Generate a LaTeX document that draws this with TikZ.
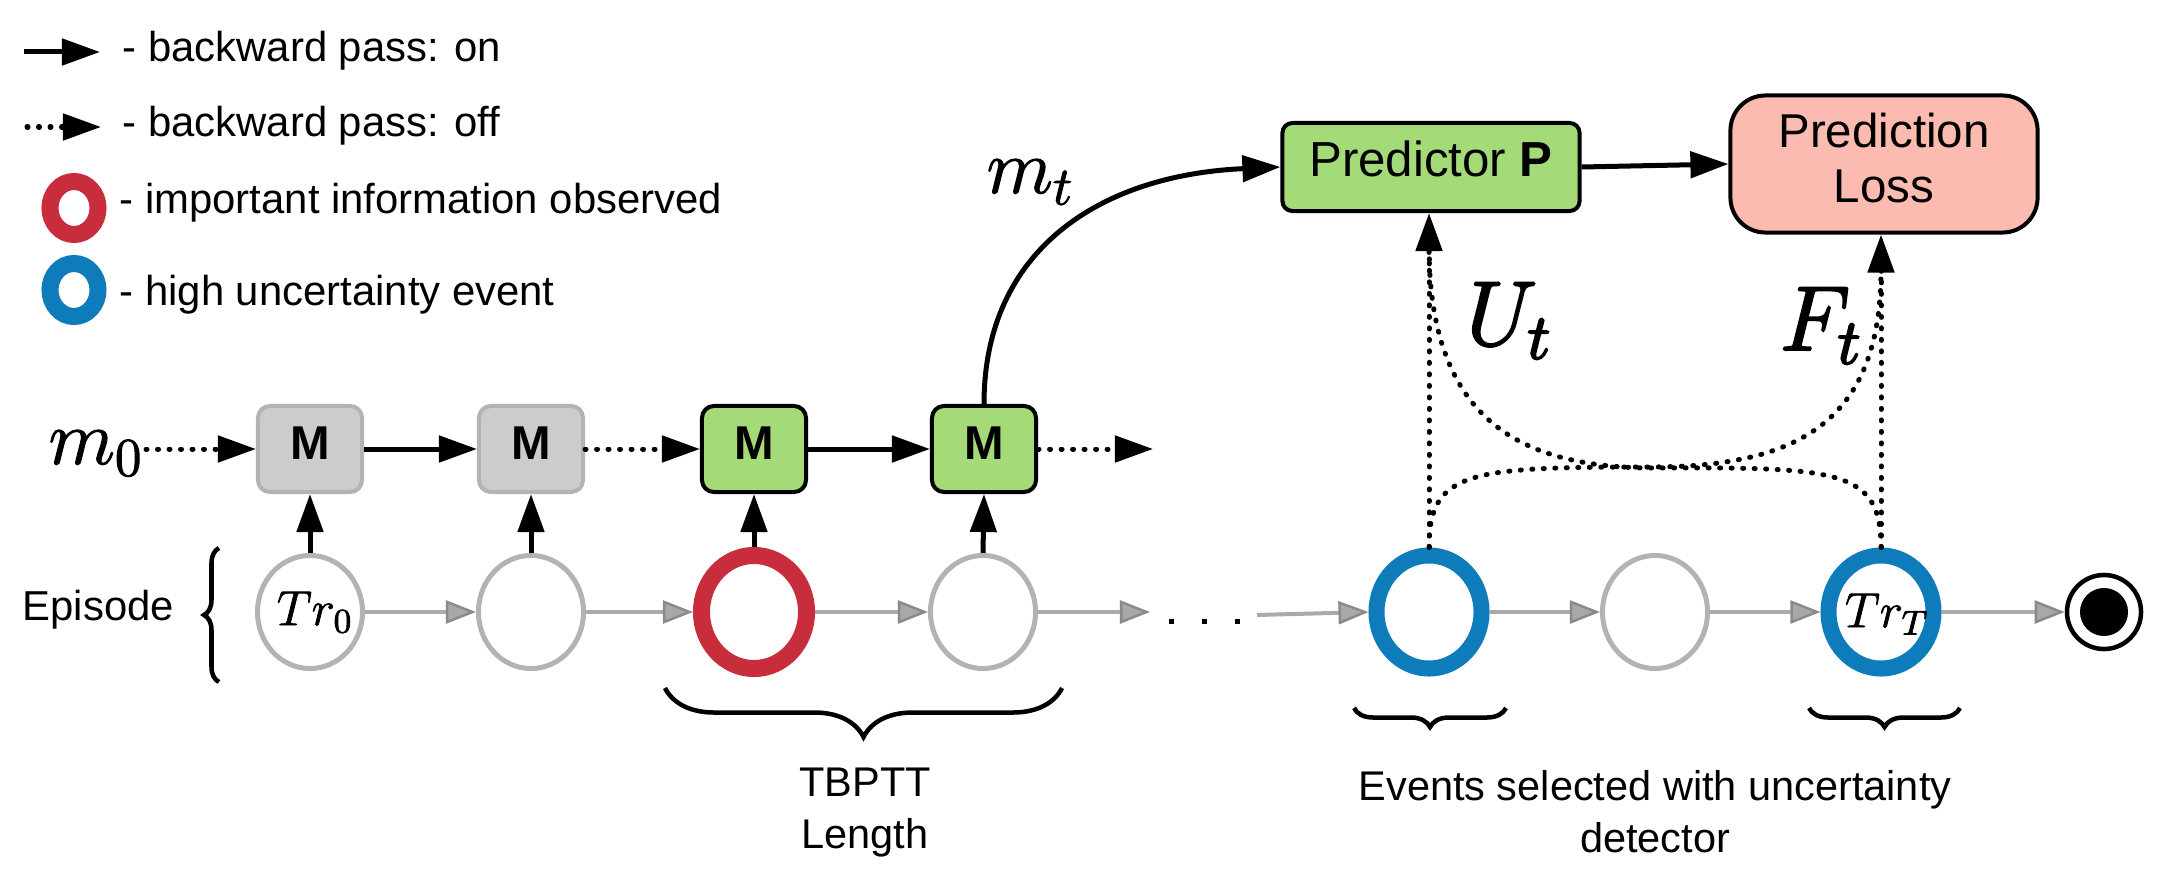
\RequirePackage{fix-cm}
\documentclass[tikz,border=0pt]{standalone}
\usepackage[no-math]{fontspec}
\setmainfont{Liberation Sans}
\usetikzlibrary{arrows.meta,shapes.geometric,decorations.pathreplacing,calc}
\definecolor{mgreen}{HTML}{A5DA78}
\definecolor{boxgray}{HTML}{CCCCCC}
\definecolor{boxborder}{HTML}{B3B3B3}
\definecolor{ringgray}{HTML}{B3B3B3}
\definecolor{ringred}{HTML}{C82D3C}
\definecolor{ringblue}{HTML}{0E7BBB}
\definecolor{losspink}{HTML}{FBBBB0}
\definecolor{gline}{HTML}{AAAAAA}
\definecolor{ghead}{HTML}{A8A8A8}
\definecolor{gheadline}{HTML}{8A8A8A}
\newcommand\heavytext[2]{\special{pdf:literal direct q #1 w 2 Tr}#2\special{pdf:literal direct Q}}
\begin{document}
\begin{tikzpicture}[x=0.01cm,y=-0.01cm,
  bp on/.style={line width=0.05cm,-{Triangle[length=0.38cm,width=0.26cm]}},
  dotln/.style={line width=0.05cm,line cap=round,dash pattern=on 0.01cm off 0.105cm},
  bp off/.style={dotln,-{Triangle[length=0.38cm,width=0.26cm]}},
  garrow/.style={line width=0.04cm,draw=gline,-{Triangle[length=0.3cm,width=0.23cm,fill=ghead,color=gheadline,line width=0.025cm]}},
  evt/.style={ellipse,minimum width=1.05cm,minimum height=1.13cm,inner sep=0pt,draw=ringgray,line width=0.05cm},
  redevt/.style={evt,draw=ringred,line width=0.17cm},
  blueevt/.style={evt,draw=ringblue,line width=0.16cm},
  mbox/.style={rectangle,rounded corners=0.12cm,minimum width=1.04cm,minimum height=0.86cm,inner sep=0pt,line width=0.04cm,text depth=0.12cm,font=\fontsize{13.5}{16}\selectfont\bfseries},
  mgraybox/.style={mbox,fill=boxgray,draw=boxborder},
  mgreenbox/.style={mbox,fill=mgreen,draw=black},
  legtxt/.style={anchor=base west,inner sep=0pt,font=\fontsize{11.9}{14}\selectfont},
  legring/.style={ellipse,minimum width=0.48cm,minimum height=0.53cm,inner sep=0pt,line width=0.17cm},
  bigmath/.style={anchor=base west,inner sep=0pt,font=\fontsize{22}{26}\selectfont},
  hugemath/.style={anchor=base west,inner sep=0pt,font=\fontsize{26}{30}\selectfont},
  trmath/.style={inner sep=0pt,font=\fontsize{14}{16}\selectfont},
  brc/.style={decorate,line width=0.045cm},
  captxt/.style={anchor=north,inner sep=0pt,align=center,font=\fontsize{11.8}{14.8}\selectfont}
]
\useasboundingbox (0,0) rectangle (2179,879);

% ---------- legend ----------
\coordinate (l1a) at (24,52);  \coordinate (l1b) at (100,52);
\coordinate (l2a) at (27,127); \coordinate (l2b) at (101,127);
\draw[bp on] (l1a) -- (l1b);
\draw[bp off] (l2a) -- (l2b);
\node[legtxt] (lt1) at (122,62) {- backward pass: on};
\node[legtxt] (lt2) at (122,137) {- backward pass: off};
\node[legring,draw=ringred] (lr3) at (74,208) {};
\node[legring,draw=ringblue] (lr4) at (74,290) {};
\node[legtxt] (lt3) at (119,213) {- important information observed};
\node[legtxt] (lt4) at (119,305) {- high uncertainty event};

% ---------- episode ----------
\node[legtxt] (episode) at (22,620) {Episode};
\coordinate (eb1) at (219,682); \coordinate (eb2) at (219,548);
\draw[brc,decoration={brace,amplitude=0.15cm}] (eb1) -- (eb2);

\node[evt] (c1) at (310,612) {};
\node[trmath] (tr0) at (315,612) {\heavytext{0.2}{$Tr_0$}};
\node[evt] (c2) at (531,612) {};
\node[redevt] (c3) at (754,612) {};
\node[evt] (c4) at (983,612) {};
\node[blueevt] (c5) at (1429,612) {};
\node[evt] (c6) at (1655,612) {};
\node[blueevt] (c7) at (1881,612) {};
\node[trmath] (trT) at (1887,614) {\heavytext{0.2}{$Tr_T$}};
\node[circle,draw=black,line width=0.045cm,minimum size=0.74cm,inner sep=0pt] (endn) at (2104,612) {};
\fill (endn.center) circle[radius=0.24cm];

\coordinate (d1) at (1150,612);
\coordinate (d2) at (1257,615);
\draw[garrow] (c1) -- (c2);
\draw[garrow] (c2) -- (c3);
\draw[garrow] (c3) -- (c4);
\draw[garrow] (c4.east) -- (d1);
\draw[garrow] (d2) -- (c5.west);
\draw[garrow] (c5) -- (c6);
\draw[garrow] (c6) -- (c7);
\draw[garrow] (c7) -- (endn);
\fill (1168.5,618.5) rectangle (1173.5,623.5);
\fill (1201.5,618.5) rectangle (1206.5,623.5);
\fill (1234.5,618.5) rectangle (1239.5,623.5);

% ---------- memory row ----------
\node[mgraybox] (M1) at (310,449) {M};
\node[mgraybox] (M2) at (531,449) {M};
\node[mgreenbox] (M3) at (754,449) {M};
\node[mgreenbox] (M4) at (984,449) {M};
\node[bigmath] (m0) at (48,464) {\heavytext{0.3}{$m_0$}};
\coordinate (m0s) at (146,449);
\coordinate (mend) at (1153,449);
\draw[bp off] (m0s) -- (M1.west);
\draw[bp on] (M1) -- (M2);
\draw[bp off] (M2) -- (M3);
\draw[bp on] (M3) -- (M4);
\draw[bp off] (M4.east) -- (mend);
\foreach \i in {1,2,3,4} \draw[bp on] (c\i.north) -- (M\i.south);

% ---------- predictor and loss ----------
\node[rectangle,rounded corners=0.1cm,minimum width=2.97cm,minimum height=0.88cm,inner sep=0pt,
      fill=mgreen,draw=black,line width=0.04cm,text depth=0.17cm,font=\fontsize{14}{16}\selectfont]
      (pred) at (1431,167) {Predictor \textbf{P}};
\node[rectangle,rounded corners=0.35cm,minimum width=3.07cm,minimum height=1.37cm,inner sep=0pt,
      fill=losspink,draw=black,line width=0.04cm,align=center,text depth=0.13cm,font=\fontsize{13.5}{15.6}\selectfont]
      (loss) at (1884,164) {Prediction\\Loss};
\draw[bp on] (pred.east) -- (loss.west);
\draw[bp on] (M4.north) .. controls (984,250) and (1100,175) .. (pred.west);
\node[bigmath] (mt) at (986,193) {\heavytext{0.3}{$m_t$}};
\node[hugemath] (Ut) at (1466,345) {\heavytext{0.6}{$U_t$}};
\node[hugemath] (Ft) at (1779,350) {\heavytext{0.6}{$F_t$}};

\draw[bp off] (c5.north) -- (c5.north |- pred.south);
\draw[bp off] (c7.north) -- (c7.north |- loss.south);
\draw[dotln] (c5.north) .. controls (1429,470) and (1470,467) .. (1655,467)
   .. controls (1800,466) and (1880,420) .. ($(c7.north |- loss.south)+(0,38)$);
\draw[dotln] (c7.north) .. controls (1881,470) and (1840,467) .. (1655,468)
   .. controls (1520,468) and (1431,420) .. ($(c5.north |- pred.south)+(0,38)$);

% ---------- braces and captions ----------
\coordinate (tb1) at (1062,688); \coordinate (tb2) at (665,688);
\draw[brc,decoration={brace,amplitude=0.49cm}] (tb1) -- (tb2);
\coordinate (eb3) at (1506,708); \coordinate (eb4) at (1354,708);
\draw[brc,decoration={brace,amplitude=0.19cm}] (eb3) -- (eb4);
\coordinate (eb5) at (1960,708); \coordinate (eb6) at (1809,708);
\draw[brc,decoration={brace,amplitude=0.19cm}] (eb5) -- (eb6);
\node[captxt] (tbptt) at (865,767) {TBPTT\\Length};
\node[captxt] (events) at (1655,770) {Events selected with uncertainty\\detector};
\end{tikzpicture}
\end{document}
